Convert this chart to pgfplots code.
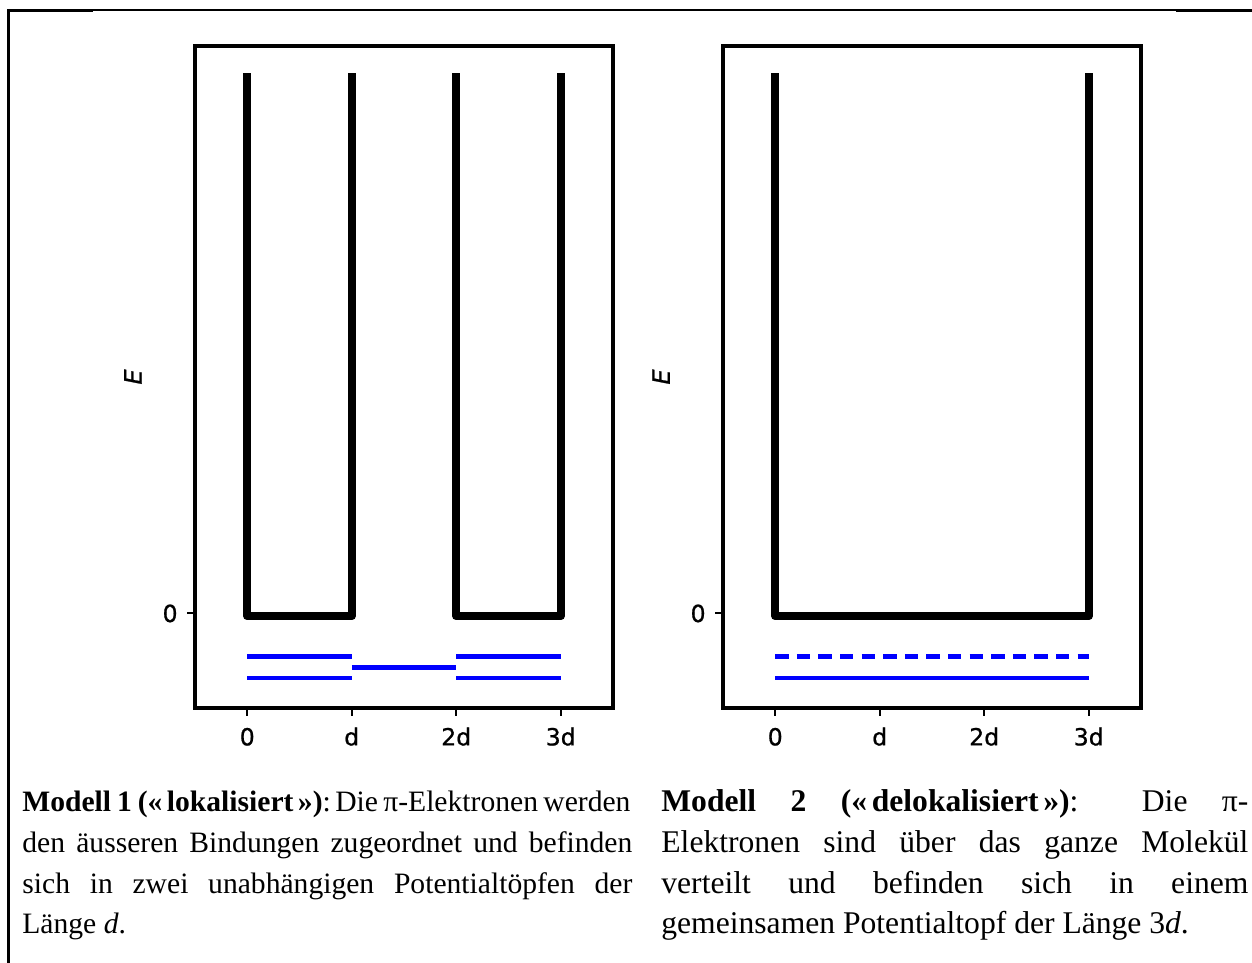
\documentclass[border=0pt]{standalone}
\usepackage{pgfplots}
\pgfplotsset{compat=1.18}
\usepackage{fontspec}
\setmainfont{Liberation Serif}
\newfontface\djv[FakeBold=0.8]{DejaVu Sans}
\newfontface\djvit[FakeBold=0.8]{DejaVu Sans Oblique}

% 1 px of the reference = 0.5pt
\pgfplotsset{
  wellaxis/.style={
    scale only axis, width=209pt, height=331pt,
    xmin=-0.5, xmax=3.5, ymin=-1.75, ymax=10.5,
    axis line style={line width=1.6pt},
    xtick={0,1,2,3}, xticklabels={0,d,2d,3d},
    ytick={0}, yticklabels={0},
    tick align=outside, major tick length=4pt,
    tick style={line width=1pt, black},
    xtick pos=left, ytick pos=left,
    ticklabel style={font=\djv\fontsize{11.8pt}{13pt}\selectfont, inner sep=0pt},
    xticklabel style={anchor=north, text height=9pt, text depth=0pt},
    xticklabel shift=5.5pt,
    yticklabel style={anchor=east},
    yticklabel shift=4.5pt,
    ylabel={\djvit\fontsize{12pt}{13pt}\selectfont E},
    every axis y label/.style={at={(axis description cs:0,0.5)}, anchor=center, xshift=-31pt, rotate=90},
  },
  well/.style={black, line width=4pt, line join=round},
  level/.style={blue, line width=2.2pt},
}

\begin{document}
\begin{tikzpicture}
\useasboundingbox (0,0) rectangle (626pt,481.5pt);
% frame of the table cell
\draw[line width=0.6pt] (4pt,476.5pt) -- (626pt,476.5pt);
\draw[line width=1.3pt] (4pt,476.2pt) -- (46.5pt,476.2pt);
\draw[line width=1.3pt] (588pt,476.2pt) -- (626pt,476.2pt);
\draw[line width=1.3pt] (4.3pt,477pt) -- (4.3pt,0pt);

% Modell 1: two wells of length d
\begin{axis}[wellaxis, at={(97.5pt,127.5pt)}, anchor=south west]
\addplot[well] coordinates {(0,10) (0,-0.05) (1,-0.05) (1,10)};
\addplot[well] coordinates {(2,10) (2,-0.05) (3,-0.05) (3,10)};
\addplot[level] coordinates {(0,-0.8) (1,-0.8)};
\addplot[level] coordinates {(0,-1.2) (1,-1.2)};
\addplot[level] coordinates {(1,-1.0) (2,-1.0)};
\addplot[level] coordinates {(2,-0.8) (3,-0.8)};
\addplot[level] coordinates {(2,-1.2) (3,-1.2)};
\end{axis}

% Modell 2: one well of length 3d
\begin{axis}[wellaxis, at={(361.5pt,127.5pt)}, anchor=south west]
\addplot[well] coordinates {(0,10) (0,-0.05) (3,-0.05) (3,10)};
\addplot[level, dash pattern=on 6.7pt off 4.1pt] coordinates {(0,-0.8) (3,-0.8)};
\addplot[level] coordinates {(0,-1.2) (3,-1.2)};
\end{axis}

\node[anchor=base west, inner sep=0pt, text width=305pt, align=justify,
      font=\fontsize{14.8pt}{20.4pt}\selectfont] at (11pt,75.75pt)
  {\makebox[\linewidth][s]{\textbf{Modell\kern0.2em 1\kern0.2em(«\kern0.15em lokalisiert\kern0.15em»)}:\kern0.15em Die\kern0.18em π-Elektronen\kern0.18em werden}\linebreak
   den äusseren Bindungen zugeordnet und befinden\linebreak
   sich in zwei unabhängigen Potentialtöpfen der\linebreak
   Länge \textit{d}.};
\node[anchor=base west, inner sep=0pt, text width=293.5pt, align=justify,
      font=\fontsize{15.8pt}{20.4pt}\selectfont] at (330.5pt,75.75pt)
  {\textbf{Modell 2 («\kern0.15em delokalisiert\kern0.15em»)}: Die π-\linebreak
   Elektronen sind über das ganze Molekül\linebreak
   verteilt und befinden sich in einem\linebreak
   gemeinsamen Potentialtopf der Länge 3\textit{d}.};
\end{tikzpicture}
\end{document}
